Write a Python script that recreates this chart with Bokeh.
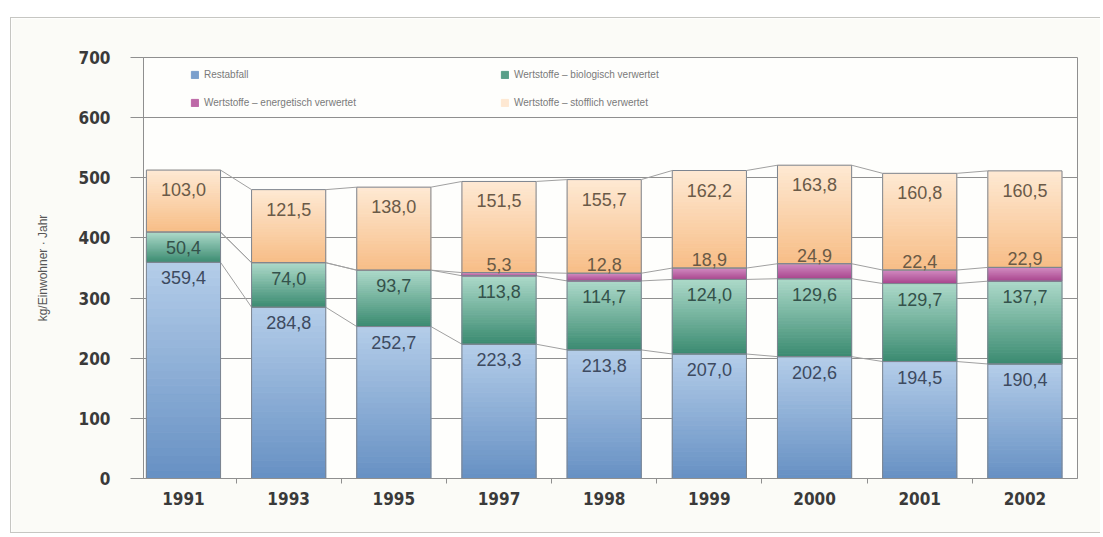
from bokeh.plotting import figure
from bokeh.models import ColumnDataSource, FixedTicker, Legend, LegendItem, Range1d
from bokeh.embed import file_html
from bokeh.resources import INLINE
from bokeh.core.properties import value

# ---------------- data ----------------
years = ["1991", "1993", "1995", "1997", "1998", "1999", "2000", "2001", "2002"]
restabfall = [359.4, 284.8, 252.7, 223.3, 213.8, 207.0, 202.6, 194.5, 190.4]
biologisch = [50.4, 74.0, 93.7, 113.8, 114.7, 124.0, 129.6, 129.7, 137.7]
energetisch = [0.0, 0.0, 0.0, 5.3, 12.8, 18.9, 24.9, 22.4, 22.9]
stofflich = [103.0, 121.5, 138.0, 151.5, 155.7, 162.2, 163.8, 160.8, 160.5]
series_names = ["Restabfall",
                "Wertstoffe – biologisch verwertet",
                "Wertstoffe – energetisch verwertet",
                "Wertstoffe – stofflich verwertet"]
y_ticks = [0, 100, 200, 300, 400, 500, 600, 700]
y_label = "kg/Einwohner · Jahr"

# ---------------- styling ----------------
BAR_W = 0.705
N_SLICES = 28
grad = [("#6690c3", "#b4cde9"),
        ("#3a8a70", "#acd9c9"),
        ("#a8448c", "#d08ac0"),
        ("#f7bd86", "#fee9d3")]
label_col = ["#3d4a60", "#34524b", "#6a5a45", "#6a5a48"]
label_off = [9, 9, -2, 13]
legend_idx = [N_SLICES // 4, N_SLICES // 4, N_SLICES // 2, N_SLICES - 1]
NARROW = "'Liberation Sans Narrow', 'DejaVu Sans Condensed', sans-serif"
SANS = "'Liberation Sans', Arial, sans-serif"


def hex2rgb(h):
    h = h.lstrip("#")
    return tuple(int(h[i:i + 2], 16) for i in (0, 2, 4))


def mix(c0, c1, t):
    a, b = hex2rgb(c0), hex2rgb(c1)
    return "#%02x%02x%02x" % tuple(int(round(a[k] + (b[k] - a[k]) * t)) for k in range(3))


xs = list(range(len(years)))
series = [restabfall, biologisch, energetisch, stofflich]
bottoms = []
tops = []
run = [0.0] * len(years)
for s in series:
    bottoms.append(run[:])
    run = [r + v for r, v in zip(run, s)]
    tops.append(run[:])

p = figure(width=1090, height=516, output_backend="svg", toolbar_location=None,
           x_range=Range1d(-0.38, 8.5), y_range=Range1d(0, 700),
           min_border_left=132, min_border_right=24, min_border_top=39,
           min_border_bottom=56)
p.styles = {"margin-left": "10px", "margin-top": "17px",
            "border-left": "1px solid #c6c6c2", "border-top": "1px solid #c6c6c2",
            "border-bottom": "1px solid #c6c6c2"}
p.background_fill_color = "#fefefc"
p.border_fill_color = "#fbfbf7"
p.outline_line_color = "#8f8f8f"
p.outline_line_width = 1

p.xgrid.grid_line_color = None
p.ygrid.ticker = FixedTicker(ticks=y_ticks)
p.ygrid.grid_line_color = "#8f8f8f"
p.ygrid.grid_line_width = 1

# connector lines between bars
for lev in tops:
    p.segment(x0=[x + BAR_W / 2 for x in xs[:-1]], y0=lev[:-1],
              x1=[x + 1 - BAR_W / 2 for x in xs[:-1]], y1=lev[1:],
              line_color="#a0a0a0", line_width=1)

# gradient bars (thin slices of each segment)
slice_renderers = []
for si, s in enumerate(series):
    sx, sb, st, sc = [], [], [], []
    for i in xs:
        b, t = bottoms[si][i], tops[si][i]
        if t - b <= 0:
            continue
        for k in range(N_SLICES):
            sx.append(i)
            sb.append(b + (t - b) * k / N_SLICES)
            st.append(b + (t - b) * (k + 1) / N_SLICES)
            sc.append(mix(grad[si][0], grad[si][1], (k + 0.5) / N_SLICES))
    src = ColumnDataSource(dict(x=sx, bottom=sb, top=st, color=sc))
    r = p.vbar(x="x", bottom="bottom", top="top", width=BAR_W, source=src,
               fill_color="color", line_color="color", line_width=1)
    slice_renderers.append(r)

# segment outlines
for si, s in enumerate(series):
    ox = [i for i in xs if s[i] > 0]
    p.vbar(x=ox, bottom=[bottoms[si][i] for i in ox], top=[tops[si][i] for i in ox],
           width=BAR_W, fill_color=None, line_color="#7d8590", line_width=1)


def fmt(v):
    return ("%.1f" % v).replace(".", ",")


for si, s in enumerate(series):
    ix = [i for i in xs if s[i] > 0]
    txt = [fmt(s[i]) for i in ix]
    p.text(x=ix, y=[tops[si][i] for i in ix], text=txt,
           text_align="center", text_baseline="bottom" if si == 2 else "top",
           y_offset=label_off[si],
           text_font=value(SANS), text_font_size="18px",
           text_color=label_col[si])

# axes
p.yaxis.ticker = FixedTicker(ticks=y_ticks)
p.yaxis.major_tick_out = 13
p.yaxis.major_tick_in = 0
p.yaxis.minor_tick_out = 0
p.yaxis.minor_tick_in = 0
p.yaxis.axis_line_color = "#8f8f8f"
p.yaxis.major_tick_line_color = "#8f8f8f"
p.yaxis.major_label_standoff = 20
p.yaxis.major_label_text_font = NARROW
p.yaxis.major_label_text_font_style = "bold"
p.yaxis.major_label_text_font_size = "17px"
p.yaxis.major_label_text_color = "#3a3a3a"
p.yaxis.axis_label = y_label
p.yaxis.axis_label_text_font = SANS
p.yaxis.axis_label_text_font_style = "normal"
p.yaxis.axis_label_text_font_size = "12px"
p.yaxis.axis_label_text_color = "#555555"
p.yaxis.axis_label_standoff = 26

p.xaxis.ticker = FixedTicker(ticks=xs, minor_ticks=[x + 0.5 for x in xs[:-1]])
p.xaxis.major_label_overrides = {i: y for i, y in zip(xs, years)}
p.xaxis.major_tick_out = 0
p.xaxis.major_tick_in = 0
p.xaxis.minor_tick_out = 5
p.xaxis.minor_tick_in = 0
p.xaxis.minor_tick_line_color = "#8f8f8f"
p.xaxis.axis_line_color = "#8f8f8f"
p.xaxis.major_label_standoff = 8
p.xaxis.major_label_text_font = NARROW
p.xaxis.major_label_text_font_style = "bold"
p.xaxis.major_label_text_font_size = "17px"
p.xaxis.major_label_text_color = "#3a3a3a"

for row, (a, b, ly) in enumerate([(0, 1, 398), (2, 3, 370)]):
    lg = Legend(items=[LegendItem(label=series_names[a], renderers=[slice_renderers[a]],
                                  index=legend_idx[a]),
                       LegendItem(label=series_names[b], renderers=[slice_renderers[b]],
                                  index=legend_idx[b])],
                orientation="horizontal", location=(47, ly),
                glyph_width=9, glyph_height=9, label_height=12, label_width=286,
                label_standoff=5, spacing=10, padding=0, margin=0,
                border_line_color=None, background_fill_alpha=0,
                label_text_font=SANS, label_text_font_size="10px",
                label_text_color="#7a7a7a")
    p.add_layout(lg)

open("out.html", "w").write(file_html(p, INLINE))
